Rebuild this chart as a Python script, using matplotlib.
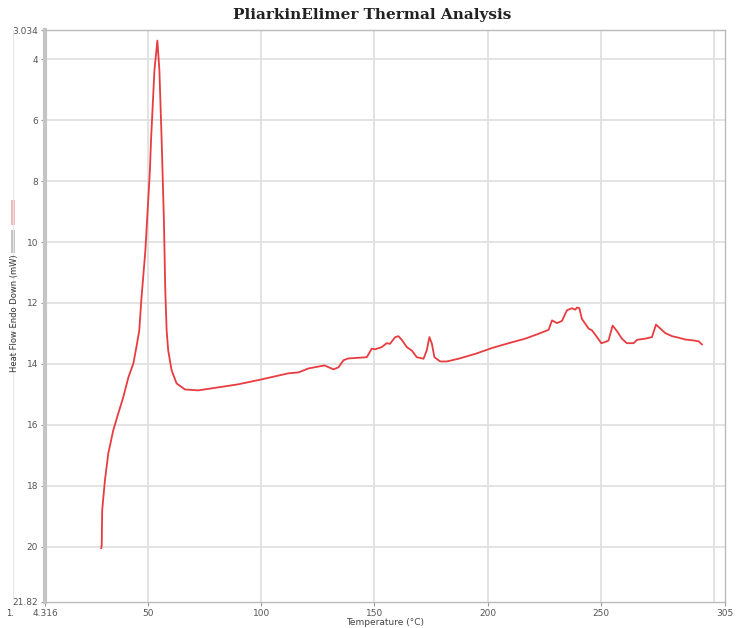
import matplotlib
matplotlib.use("Agg")
import matplotlib.pyplot as plt
from matplotlib.lines import Line2D
from matplotlib.patches import Rectangle

# DSC trace: temperature (°C) vs heat flow (mW), endo down
temperature = [29.2, 29.4, 29.6, 30.8, 32.3, 34.5, 36.7, 38.9, 41.2, 43.4, 44.7, 46.0,
               46.9, 48.7, 50.7, 51.2, 52.7, 54.0, 54.9, 55.9, 56.9, 57.5, 58.1, 58.8,
               60.3, 62.5, 66.2, 72.1, 81.0, 89.8, 100.0, 111.9, 116.4, 120.8, 127.9,
               131.9, 134.1, 136.3, 138.5, 142.9, 146.6, 148.8, 150.3, 153.2, 155.4,
               156.9, 157.7, 159.2, 160.6, 162.1, 164.3, 166.5, 168.7, 171.7, 173.1,
               174.3, 175.4, 176.5, 179.1, 182.0, 187.2, 194.6, 201.9, 209.3, 216.7,
               222.6, 227.0, 228.5, 230.7, 232.9, 235.1, 237.3, 238.8, 239.5, 240.6,
               241.7, 243.2, 244.7, 246.2, 248.4, 250.3, 252.1, 253.5, 255.3, 257.2,
               259.4, 261.6, 264.6, 266.1, 269.8, 272.7, 274.5, 276.4, 278.6, 281.6,
               284.5, 287.5, 291.2, 293.4, 294.8]
heat_flow = [20.05, 19.95, 18.81, 17.83, 16.94, 16.18, 15.63, 15.10, 14.44, 13.98, 13.46,
             12.90, 11.91, 10.27, 7.65, 6.66, 4.36, 3.38, 4.36, 6.66, 9.29, 11.59, 12.90,
             13.56, 14.21, 14.64, 14.84, 14.87, 14.77, 14.67, 14.51, 14.31, 14.28, 14.15,
             14.05, 14.18, 14.11, 13.88, 13.82, 13.80, 13.78, 13.50, 13.52, 13.45, 13.32,
             13.34, 13.26, 13.12, 13.09, 13.21, 13.45, 13.56, 13.78, 13.83, 13.56, 13.12,
             13.34, 13.78, 13.92, 13.92, 13.83, 13.67, 13.48, 13.32, 13.17, 13.01, 12.88,
             12.57, 12.66, 12.59, 12.24, 12.17, 12.22, 12.15, 12.17, 12.52, 12.68, 12.84,
             12.90, 13.12, 13.32, 13.28, 13.23, 12.74, 12.92, 13.17, 13.32, 13.32, 13.21,
             13.17, 13.12, 12.71, 12.84, 12.99, 13.09, 13.14, 13.20, 13.23, 13.26, 13.36]

x_ticks = [4.316, 50, 100, 150, 200, 250, 305]
x_labels = ["4.316", "50", "100", "150", "200", "250", "305"]
x_grid = [50, 100, 150, 200, 250, 300]
y_ticks = [3.034, 4, 6, 8, 10, 12, 14, 16, 18, 20, 21.82]
y_labels = ["3.034", "4", "6", "8", "10", "12", "14", "16", "18", "20", "21.82"]
y_grid = [4, 6, 8, 10, 12, 14, 16, 18, 20]

fig = plt.figure(figsize=(7.44, 6.28), dpi=100)
ax = fig.add_axes([45 / 744, 1 - 602 / 628, 680 / 744, 572 / 628])

ax.plot(temperature, heat_flow, color="#e83c40", lw=1.3, solid_joinstyle="round")

ax.set_xlim(4.316, 305)
ax.set_ylim(21.82, 3.034)

# grid lies on minor ticks that share positions with the labelled ones
ax.xaxis.remove_overlapping_locs = False
ax.yaxis.remove_overlapping_locs = False
ax.set_xticks(x_ticks)
ax.set_xticklabels(x_labels)
ax.set_xticks(x_grid, minor=True)
ax.set_yticks(y_ticks)
ax.set_yticklabels(y_labels)
ax.set_yticks(y_grid, minor=True)
ax.grid(which="minor", color="#e0e0e0", lw=1.3)
ax.grid(which="major", visible=False)
ax.set_axisbelow(True)
ax.tick_params(which="minor", length=0)
ax.tick_params(which="major", length=3, width=0.8, color="#999999",
               labelsize=6.5, labelcolor="#555555", pad=2)

for side in ("top", "right", "bottom"):
    ax.spines[side].set_color("#bbbbbb")
    ax.spines[side].set_linewidth(1.0)
ax.spines["left"].set_color("#c4c4c4")
ax.spines["left"].set_linewidth(3)

ax.set_xlabel("Temperature (°C)", fontsize=6.5, color="#444444", labelpad=0)

fig.text(0.5, 1 - 15 / 628, "PliarkinElimer Thermal Analysis", ha="center", va="center",
         fontsize=11, weight="bold", family="DejaVu Serif", color="#222222")

# left-hand legend swatches and rotated axis title
fig.add_artist(Rectangle((11 / 744, 1 - 225 / 628), 4 / 744, 25 / 628,
                         transform=fig.transFigure, color="#f4b8bc", lw=0))
fig.add_artist(Rectangle((11 / 744, 1 - 253 / 628), 4 / 744, 23 / 628,
                         transform=fig.transFigure, color="#c4c4c4", lw=0))
fig.add_artist(Line2D([13 / 744, 13 / 744], [1 - 30 / 628, 1 - 599 / 628],
                      transform=fig.transFigure, color="#e6e6e6", lw=0.8))
fig.text(14.5 / 744, 1 - 313 / 628, "Heat Flow Endo Down (mW)", rotation=90,
         ha="center", va="center", fontsize=6, color="#333333")
fig.text(6 / 744, 1 - 613 / 628, "1.", fontsize=6, color="#444444", va="center")

fig.savefig("out.png", dpi=100, facecolor="white")
